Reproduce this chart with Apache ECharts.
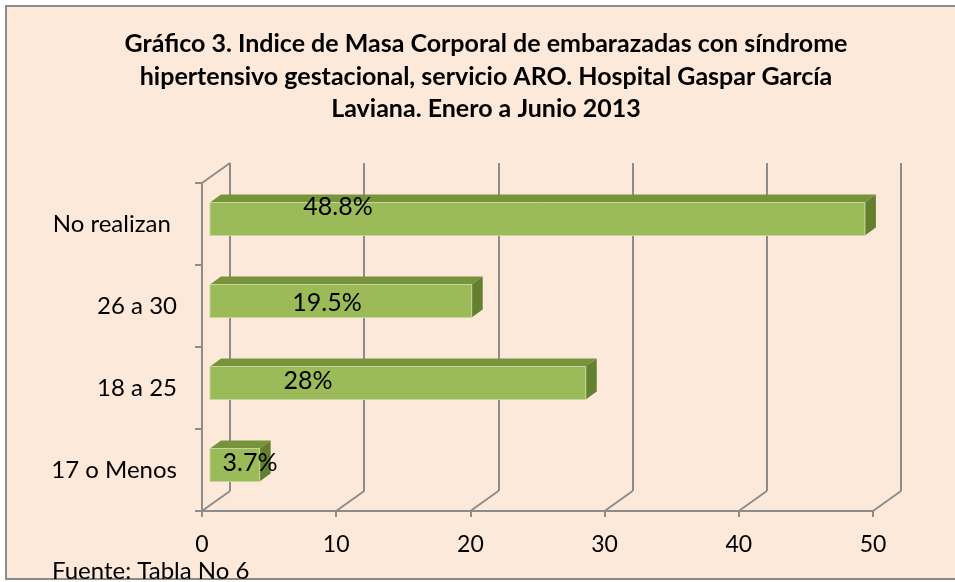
<!DOCTYPE html>
<html>
<head>
<meta charset="utf-8">
<title>Gráfico 3</title>
<script src="https://cdn.jsdelivr.net/npm/echarts@6/dist/echarts.min.js"></script>
<style>
    html, body { margin: 0; padding: 0; background: #fff; }
    #frame {
        position: absolute; left: 5px; top: 5px; width: 960px; height: 571px;
        background: #fde9d9; border: 2px solid #8a8a8a;
    }
    #chart { position: absolute; left: 0; top: 0; width: 955px; height: 582px; }
</style>
</head>
<body>
<div id="frame"></div>
<div id="chart"></div>
<script>
    // datos del gráfico
    const categorias = ['17 o Menos', '18 a 25', '26 a 30', 'No realizan '];
    const valores = [3.7, 28, 19.5, 48.8];
    const etiquetas = ['3.7%', '28%', '19.5%', '48.8%'];
    const ticksX = [0, 10, 20, 30, 40, 50];

    const titulo = 'Gráfico 3. Indice de Masa Corporal de embarazadas con síndrome\n' +
        'hipertensivo gestacional, servicio ARO. Hospital Gaspar García\n' +
        'Laviana. Enero a Junio 2013';

    // profundidad del 3D (px)
    const fondoDx = 28, fondoDy = 20;
    // ajuste de las etiquetas, como las deja Excel
    const nudge = [[40, -2], [98, -2], [117, 2], [128, -12]];

    const gris = '#8c8c8c';
    const fuente = 'Lato, "Open Sans", sans-serif';

    let myChart = echarts.init(document.getElementById('chart'), null, {renderer: 'canvas'});

    function renderBar(params, api) {
        let idx = api.value(1);
        let v = api.value(0);
        let base = api.coord([0, idx]);
        let end = api.coord([v, idx]);
        let bw = 33, dx = 11, dy = 8;
        let L = base[0] + 8, R = end[0] + 8;
        let T = base[1] - 5 - bw / 2, B = T + bw;
        let n = nudge[params.dataIndex];
        return {
            type: 'group',
            children: [{
                type: 'polygon',
                shape: {points: [[L, T], [L + dx, T - dy], [R + dx, T - dy], [R, T]]},
                style: {fill: '#77933c'}
            }, {
                type: 'polygon',
                shape: {points: [[R, T], [R + dx, T - dy], [R + dx, B - dy], [R, B]]},
                style: {fill: '#657f30'}
            }, {
                type: 'rect',
                shape: {x: L, y: T, width: R - L, height: bw},
                style: {fill: '#9bbb59', stroke: '#c3d69b', lineWidth: 1}
            }, {
                type: 'text',
                x: L + n[0], y: (T + B) / 2 + n[1],
                style: {
                    text: etiquetas[params.dataIndex], fill: '#000',
                    font: '25px ' + fuente, align: 'center', verticalAlign: 'middle'
                }
            }]
        };
    }

    function renderFloor(params, api) {
        let p = api.coord([api.value(0), 0]);
        let cs = params.coordSys;
        let bottom = cs.y + cs.height;
        let lineStyle = {stroke: gris, lineWidth: 2};
        let children = [{
            type: 'line',
            shape: {x1: p[0], y1: bottom, x2: p[0] + fondoDx, y2: bottom - fondoDy},
            style: lineStyle
        }];
        if (params.dataIndex === 0) {
            children.push({
                type: 'line',
                shape: {x1: p[0], y1: cs.y, x2: p[0] + fondoDx, y2: cs.y - fondoDy},
                style: lineStyle
            });
        }
        return {type: 'group', children: children};
    }

    let option = {
        backgroundColor: 'transparent',
        textStyle: {fontFamily: fuente},
        graphic: [{
            type: 'text',
            x: 486, y: 28,
            style: {
                text: titulo, fill: '#000', align: 'center', verticalAlign: 'top',
                font: 'bold 25px ' + fuente, lineHeight: 32.5
            }
        }],
        title: [{
            text: 'Fuente: Tabla No 6',
            left: 52,
            top: 559,
            padding: 0,
            textStyle: {fontFamily: fuente, fontWeight: 'normal', fontSize: 24, color: '#000'}
        }],
        grid: [
            {left: 202, top: 183, width: 671, height: 328, containLabel: false},
            {left: 202 + fondoDx, top: 183 - fondoDy, width: 671, height: 328, containLabel: false}
        ],
        xAxis: [{
            type: 'value', gridIndex: 0, min: 0, max: 50, interval: 10,
            axisLine: {show: true, lineStyle: {color: gris, width: 2}},
            axisTick: {show: true, length: 6, lineStyle: {color: gris, width: 2}},
            axisLabel: {fontSize: 23, color: '#000', margin: 22, fontFamily: fuente},
            splitLine: {show: false}
        }, {
            type: 'value', gridIndex: 1, min: 0, max: 50, interval: 10,
            axisLine: {show: false}, axisTick: {show: false}, axisLabel: {show: false},
            splitLine: {show: true, showMinLine: true, showMaxLine: true, lineStyle: {color: gris, width: 2}}
        }],
        yAxis: [{
            type: 'category', gridIndex: 0, data: categorias,
            axisLine: {show: true, lineStyle: {color: gris, width: 2}},
            axisTick: {show: true, length: 7, lineStyle: {color: gris, width: 2}},
            axisLabel: {fontSize: 24, color: '#000', margin: 25, lineHeight: 32, padding: [8, 0, 0, 0], fontFamily: fuente}
        }, {
            type: 'category', gridIndex: 1, data: categorias, show: false
        }],
        series: [{
            type: 'custom',
            name: 'piso',
            xAxisIndex: 0, yAxisIndex: 0,
            renderItem: renderFloor,
            clip: false,
            silent: true,
            z: 1,
            encode: {x: 0, y: 1},
            data: ticksX.map(v => [v, 0])
        }, {
            type: 'custom',
            name: 'IMC',
            xAxisIndex: 0, yAxisIndex: 0,
            renderItem: renderBar,
            clip: false,
            z: 5,
            encode: {x: 0, y: 1},
            data: valores.map((v, i) => [v, i])
        }]
    };

    myChart.setOption(option);
</script>
</body>
</html>
